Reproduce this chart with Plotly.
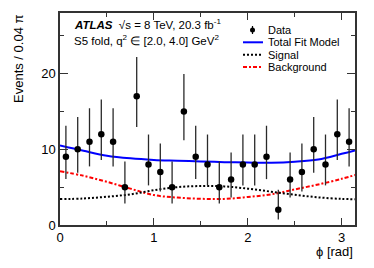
import numpy as np
import plotly.graph_objects as go

# ---- data ----
bin_width = 0.04 * np.pi
phi_centers = [(i + 0.5) * bin_width for i in range(25)]
events = [9, 10, 11, 12, 11, 5, 17, 8, 7, 5, 15, 9, 8, 5, 6, 8, 8, 9, 2, 6, 7, 10, 8, 12, 11]
err_up = [4.11, 4.27, 4.42, 4.56, 4.42, 3.38, 5.18, 3.95, 3.77, 3.38, 4.95, 4.11, 3.95, 3.38,
          3.58, 3.95, 3.95, 4.11, 2.64, 3.58, 3.77, 4.27, 3.95, 4.56, 4.42]
err_down = [2.94, 3.11, 3.26, 3.41, 3.26, 2.16, 4.07, 2.77, 2.58, 2.16, 3.80, 2.94, 2.77, 2.16,
            2.38, 2.77, 2.77, 2.94, 1.29, 2.38, 2.58, 3.11, 2.77, 3.41, 3.26]

phi_curve = [0.0, 0.25, 0.5, 0.75, 1.0, 1.25, 1.5, 1.75, 2.0, 2.25, 2.5, 2.75, 3.0, 3.1416]
total_fit = [10.5, 9.8, 9.15, 8.8, 8.6, 8.5, 8.4, 8.3, 8.25, 8.22, 8.35, 8.65, 9.4, 9.85]
signal = [3.42, 3.5, 3.73, 4.05, 4.6, 5.0, 5.15, 5.1, 4.8, 4.4, 4.0, 3.65, 3.45, 3.4]
background = [7.1, 6.5, 5.7, 4.8, 3.95, 3.62, 3.46, 3.45, 3.7, 4.05, 4.7, 5.35, 6.1, 6.6]

legend_labels = ["Data", "Total Fit Model", "Signal", "Background"]

FONT = "Liberation Sans"
AX = "#333333"
BG_DASH = "4px,2px,2px,2px"
SIG_DASH = "2px,2px"

fig = go.Figure()
fig.add_trace(go.Scatter(x=phi_curve, y=background, mode="lines",
                         line=dict(color="#ff0000", width=2, dash=BG_DASH, shape="spline"), hoverinfo="skip"))
fig.add_trace(go.Scatter(x=phi_curve, y=signal, mode="lines",
                         line=dict(color="black", width=2, dash=SIG_DASH, shape="spline"), hoverinfo="skip"))
fig.add_trace(go.Scatter(x=phi_curve, y=total_fit, mode="lines",
                         line=dict(color="#0000ff", width=2, shape="spline"), hoverinfo="skip"))
fig.add_trace(go.Scatter(x=phi_centers, y=events, mode="markers",
                         marker=dict(color="black", size=6.5),
                         error_y=dict(type="data", array=err_up, arrayminus=err_down, symmetric=False,
                                      color="#2a2a2a", thickness=1.3, width=0)))

axis_common = dict(showline=True, linecolor=AX, linewidth=1.5, mirror="ticks", ticks="inside",
                   tickcolor=AX, tickwidth=1, showgrid=False, zeroline=False,
                   tickfont=dict(family=FONT, size=13, color="black"))
fig.update_xaxes(range=[0, np.pi], tickvals=[0, 1, 2, 3], ticklen=7,
                 minor=dict(tickvals=[0.5, 1.5, 2.5], ticklen=4, ticks="inside", tickcolor=AX),
                 **axis_common)
fig.update_yaxes(range=[0, 28], tickvals=[0, 10, 20], ticklen=8,
                 minor=dict(tickvals=[5, 15, 25], ticklen=4, ticks="inside", tickcolor=AX),
                 **axis_common)

def px2x(px):
    return (px - 60) / 295.0

def py2y(py):
    return (225 - py) / 212.0

ann = []
ann.append(dict(xref="paper", yref="paper", x=px2x(72), y=py2y(24.5), xanchor="left", yanchor="middle",
                text="<b><i>ATLAS</i></b>  √s = 8 TeV, 20.3 fb<sup>-1</sup>", showarrow=False,
                font=dict(family=FONT, size=11.5, color="black")))
ann.append(dict(xref="paper", yref="paper", x=px2x(72), y=py2y(39.5), xanchor="left", yanchor="middle",
                text="S5 fold, q<sup>2</sup> ∈ [2.0, 4.0] GeV<sup>2</sup>", showarrow=False,
                font=dict(family=FONT, size=11.5, color="black")))
ann.append(dict(xref="paper", yref="paper", x=px2x(18), y=1.0, xanchor="center", yanchor="top",
                text="Events / 0.04 π", textangle=-90, showarrow=False,
                font=dict(family=FONT, size=13, color="black")))
ann.append(dict(xref="paper", yref="paper", x=1.0, y=py2y(242), xanchor="right", yanchor="top",
                text="ϕ [rad]", showarrow=False, font=dict(family=FONT, size=13, color="black")))

# legend (drawn manually to match the compact row spacing)
leg_y = [30, 42.3, 54.7, 67]
shapes = []
for lab, yy in zip(legend_labels, leg_y):
    ann.append(dict(xref="paper", yref="paper", x=px2x(266), y=py2y(yy), xanchor="left", yanchor="middle",
                    text=lab, showarrow=False, font=dict(family=FONT, size=11, color="black")))
shapes.append(dict(type="line", xref="paper", yref="paper", x0=px2x(252.5), x1=px2x(252.5),
                   y0=py2y(leg_y[0] - 4), y1=py2y(leg_y[0] + 4), line=dict(color="black", width=1.2)))
shapes.append(dict(type="circle", xref="paper", yref="paper", x0=px2x(250), x1=px2x(255),
                   y0=py2y(leg_y[0] + 2.5), y1=py2y(leg_y[0] - 2.5), fillcolor="black",
                   line=dict(color="black", width=0)))
shapes.append(dict(type="line", xref="paper", yref="paper", x0=px2x(243), x1=px2x(263),
                   y0=py2y(leg_y[1]), y1=py2y(leg_y[1]), line=dict(color="#0000ff", width=2)))
shapes.append(dict(type="line", xref="paper", yref="paper", x0=px2x(243), x1=px2x(263),
                   y0=py2y(leg_y[2]), y1=py2y(leg_y[2]), line=dict(color="black", width=2, dash=SIG_DASH)))
shapes.append(dict(type="line", xref="paper", yref="paper", x0=px2x(243), x1=px2x(263),
                   y0=py2y(leg_y[3]), y1=py2y(leg_y[3]), line=dict(color="#ff0000", width=2, dash=BG_DASH)))

fig.update_layout(width=374, height=268, margin=dict(l=60, r=19, t=13, b=43),
                  plot_bgcolor="white", paper_bgcolor="white", showlegend=False,
                  annotations=ann, shapes=shapes, font=dict(family=FONT))
fig.write_html("out.html", config={"displayModeBar": False},
               post_script="document.body.style.margin='0px';document.body.style.padding='0px';")
